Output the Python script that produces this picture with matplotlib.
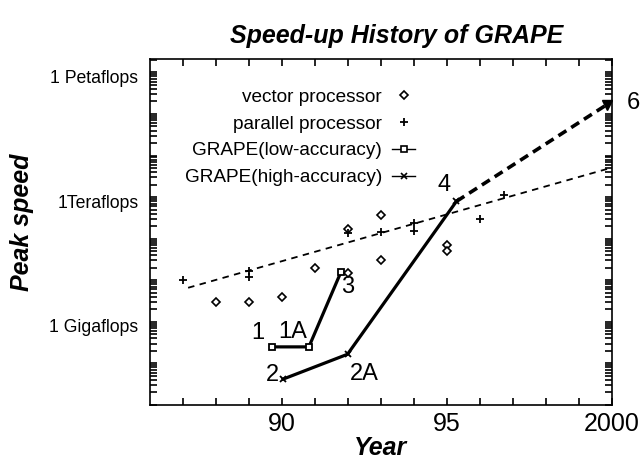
import matplotlib
matplotlib.use("Agg")
import matplotlib.pyplot as plt
import matplotlib.transforms as mtransforms
from matplotlib.ticker import LogLocator, FixedLocator, NullFormatter, FixedFormatter
from matplotlib.lines import Line2D

plt.rcParams['font.family'] = ['Liberation Sans', 'DejaVu Sans']

# ---------------- data ----------------
vector_years = [1988.0, 1989.0, 1990.0, 1991.0, 1992.0, 1992.02, 1993.0, 1993.0, 1995.0, 1995.0]
vector_flops = [3.05e9, 3.05e9, 4.0e9, 1.95e10, 1.74e11, 1.5e10, 3.8e11, 3.0e10, 7.2e10, 5.1e10]

parallel_years = [1987.0, 1989.0, 1989.0, 1992.0, 1993.0, 1994.0, 1994.0, 1996.0, 1996.75]
parallel_flops = [1.0e10, 1.66e10, 1.17e10, 1.4e11, 1.45e11, 2.4e11, 1.5e11, 3.0e11, 1.1e12]

trend_years = [1987.17, 2000.0]
trend_flops = [6.6e9, 5.1e12]

grape_low_years = [1989.7, 1990.83, 1991.8]
grape_low_flops = [2.5e8, 2.5e8, 1.57e10]
grape_low_labels = ['1', '1A', '3']

grape_high_years = [1990.05, 1992.0, 1995.3]
grape_high_flops = [4.2e7, 1.66e8, 7.9e11]
grape_high_labels = ['2', '2A', '4']

grape6_years = [1995.3, 1999.85]
grape6_flops = [7.9e11, 1.66e14]
grape6_label = '6'

ytick_values = [1e9, 1e12, 1e15]
ytick_labels = ['1 Gigaflops', '1Teraflops', '1 Petaflops']
xtick_values = [1990, 1995, 2000]
xtick_labels = ['90', '95', '2000']
year_ticks = list(range(1987, 2001))

legend_labels = ['vector processor', 'parallel processor',
                 'GRAPE(low-accuracy)', 'GRAPE(high-accuracy)']

# ---------------- figure ----------------
fig = plt.figure(figsize=(6.4, 4.65), dpi=100)
ax = fig.add_axes([149.5 / 640, 1 - 405 / 465, 462 / 640, 346 / 465])
ax.set_yscale('log')
ax.set_xlim(1986, 2000)
ax.set_ylim(1e7, 2.1e15)

k = 'black'
ax.plot(trend_years, trend_flops, color=k, lw=1.3, ls=(0, (3.6, 3.0)))
ax.plot(grape6_years, grape6_flops, color=k, lw=2.6, ls=(0, (2.6, 1.6)))
ax.plot(grape6_years[-1:], grape6_flops[-1:], 'v', color=k, ms=7)
ax.plot(grape_low_years, grape_low_flops, color=k, lw=2.3, marker='s',
        ms=4.2, mfc='white', mec=k, mew=1.3)
ax.plot(grape_high_years, grape_high_flops, color=k, lw=2.3, marker='x',
        ms=5, mew=1.3)
ax.plot(vector_years, vector_flops, ls='none', marker='D', ms=3.8,
        mfc='white', mec=k, mew=1.2)
ax.plot(parallel_years, parallel_flops, ls='none', marker='+', ms=5.5,
        mec=k, mew=1.3)

label_offsets = {'1': (-10, 10), '1A': (-12, 11), '3': (5, -11),
                 '2': (-8, 3), '2A': (12, -14), '4': (-9, 12), '6': (19, 1)}
for xs, ys, labs in [(grape_low_years, grape_low_flops, grape_low_labels),
                     (grape_high_years, grape_high_flops, grape_high_labels),
                     (grape6_years[-1:], grape6_flops[-1:], [grape6_label])]:
    for xv, yv, lab in zip(xs, ys, labs):
        ax.annotate(lab, (xv, yv), xytext=label_offsets[lab],
                    textcoords='offset points', ha='center', va='center',
                    fontsize=17)

# legend
handles = [
    Line2D([], [], ls='none', marker='D', ms=3.8, mfc='white', mec=k, mew=1.2),
    Line2D([], [], ls='none', marker='+', ms=5.5, mec=k, mew=1.3),
    Line2D([], [], color=k, lw=1.0, marker='s', ms=4.2, mfc='white', mec=k, mew=1.2),
    Line2D([], [], color=k, lw=1.0, marker='x', ms=5, mew=1.2),
]
leg = ax.legend(handles, legend_labels, loc='upper right', markerfirst=False,
                frameon=False, fontsize=13.7, handlelength=1.2,
                handletextpad=0.55, labelspacing=0.5, borderpad=0,
                borderaxespad=0, bbox_to_anchor=(0.575, 0.915))

# axes styling
for s in ax.spines.values():
    s.set_linewidth(1.2)
ax.xaxis.set_major_locator(FixedLocator(year_ticks))
ax.xaxis.set_major_formatter(FixedFormatter(
    [xtick_labels[xtick_values.index(y)] if y in xtick_values else '' for y in year_ticks]))
ax.xaxis.set_minor_locator(FixedLocator([]))
ax.set_yticks(ytick_values, ytick_labels, minor=False)
ax.yaxis.set_minor_locator(LogLocator(base=10, subs=range(1, 10), numticks=100))
ax.yaxis.set_minor_formatter(NullFormatter())
ax.tick_params(axis='both', which='both', direction='in', top=True, right=True,
               width=1.2, color=k)
ax.tick_params(axis='x', which='major', length=5, labelsize=18, pad=5)
ax.tick_params(axis='y', which='major', length=5, labelsize=12.7, pad=8)
ax.tick_params(axis='y', which='minor', length=5)

shift = mtransforms.ScaledTranslation(0, -4 / 100, fig.dpi_scale_trans)
for lbl in ax.get_yticklabels():
    lbl.set_transform(lbl.get_transform() + shift)

ax.set_xlabel('Year', fontsize=18, fontweight='bold', fontstyle='italic', labelpad=0)
fig.text(22 / 640, 1 - 222 / 465, 'Peak speed', rotation=90, ha='center', va='center',
         fontsize=18, fontweight='bold', fontstyle='italic')
fig.text(397 / 640, 1 - 36 / 465, 'Speed-up History of GRAPE', ha='center',
         va='center', fontsize=18, fontweight='bold', fontstyle='italic')

fig.savefig('out.png', dpi=100)
